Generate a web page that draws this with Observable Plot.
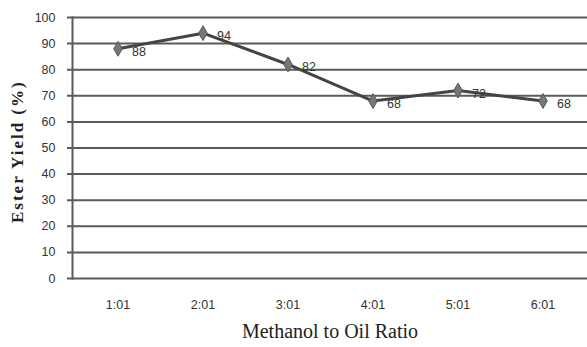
<!DOCTYPE html>
<html>
<head>
<meta charset="utf-8">
<script src="https://cdn.jsdelivr.net/npm/d3@7"></script>
<script src="https://cdn.jsdelivr.net/npm/@observablehq/plot@0.6"></script>
<style>
  html, body { margin: 0; padding: 0; background: #fff; }
  #chart svg { display: block; }
</style>
</head>
<body>
<div id="chart"></div>
<script>
const ratios = ["1:01", "2:01", "3:01", "4:01", "5:01", "6:01"];
const yields = [88, 94, 82, 68, 72, 68];
const yTicks = [0, 10, 20, 30, 40, 50, 60, 70, 80, 90, 100];
const xTitle = "Methanol to Oil Ratio";
const yTitle = "Ester Yield (%)";

const data = ratios.map((r, i) => ({ratio: r, value: yields[i]}));

const chart = Plot.plot({
  width: 587,
  height: 347,
  marginTop: 17,
  marginBottom: 69,
  marginLeft: 72,
  marginRight: 0,
  style: {fontFamily: "Liberation Sans, Arial, sans-serif", fontSize: "12px", background: "#fff", color: "#333"},
  x: {type: "band", domain: ratios, padding: 0},
  y: {domain: [0, 100]},
  marks: [
    Plot.ruleY(yTicks, {stroke: "#5a5a5a", strokeWidth: 2, insetLeft: -5}),
    Plot.frame({anchor: "left", stroke: "#5a5a5a", strokeWidth: 2}),
    Plot.axisY({ticks: yTicks, tickSize: 0, tickPadding: 17, label: null, fill: "#333", fontSize: 12.5}),
    Plot.axisX({tickSize: 0, tickPadding: 22, label: null, fill: "#333", fontSize: 12.5}),
    Plot.line(data, {x: "ratio", y: "value", stroke: "#444", strokeWidth: 3}),
    Plot.dot(data, {x: "ratio", y: "value", symbol: "diamond", r: 4.5, fill: "#777", stroke: "#555", strokeWidth: 1}),
    Plot.text(data, {x: "ratio", y: "value", text: d => String(d.value), textAnchor: "start", dx: 14, dy: 3, fill: "#333", fontSize: 12.5}),
    Plot.text([xTitle], {frameAnchor: "bottom", dy: 59, fontFamily: "Liberation Serif, Times New Roman, serif", fontSize: 20, fill: "#222"}),
    Plot.text([yTitle], {frameAnchor: "left", dx: -55, dy: 75, textAnchor: "start", rotate: -90, fontFamily: "Liberation Serif, Times New Roman, serif", fontSize: 17, fontWeight: "bold", fill: "#222"})
  ]
});
document.getElementById("chart").appendChild(chart);
// widen the rotated axis title like the stretched reference
d3.select(chart).selectAll("text").filter(function() { return this.textContent === yTitle; })
  .style("letter-spacing", "2px");
</script>
</body>
</html>
